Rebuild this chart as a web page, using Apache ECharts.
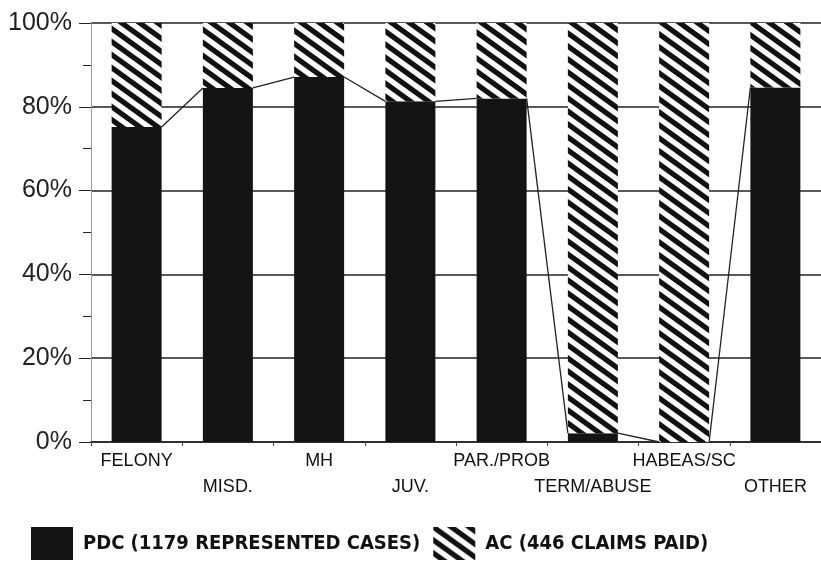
<!DOCTYPE html>
<html>
<head>
<meta charset="utf-8">
<script src="https://cdn.jsdelivr.net/npm/echarts@6/dist/echarts.min.js"></script>
<style>
  html, body { margin: 0; padding: 0; background: #fff; }
  #chart { width: 821px; height: 561px; }
</style>
</head>
<body>
<div id="chart"></div>
<script>
// Chart data (share of cases in %)
var categories = ["FELONY", "MISD.", "MH", "JUV.", "PAR./PROB", "TERM/ABUSE", "HABEAS/SC", "OTHER"];
var pdcShare = [75.2, 84.5, 87.1, 81.3, 82.0, 2.1, 0, 84.6];     // PDC (black)
var acShare  = [24.8, 15.5, 12.9, 18.7, 18.0, 97.9, 100, 15.4];  // AC (hatched)
var yTicks   = [0, 20, 40, 60, 80, 100];

var barWidth = 50;

// Diagonal hatch tile for the AC bars (lines run past the tile so the joins are clean)
function makeHatch() {
	var w = 18, h = 13;
	var c = document.createElement("canvas");
	c.width = w;
	c.height = h;
	var ctx = c.getContext("2d");
	ctx.fillStyle = "#fff";
	ctx.fillRect(0, 0, w, h);
	ctx.strokeStyle = "#111";
	ctx.lineWidth = 5.2;
	[-w, 0, w].forEach(function (dx) {
		ctx.beginPath();
		ctx.moveTo(dx - w, -h);
		ctx.lineTo(dx + 2 * w, 2 * h);
		ctx.stroke();
	});
	return c;
}

var hatch = { image: makeHatch(), repeat: "repeat" };

// Series lines: top of one black bar (right corner) to the next (left corner)
var linkData = [];
for (var i = 0; i < pdcShare.length - 1; i++) {
	linkData.push([i, pdcShare[i], pdcShare[i + 1]]);
}

var chart = echarts.init(document.getElementById("chart"), null, { renderer: "canvas" });

chart.setOption({
	animation: false,
	backgroundColor: "#fff",
	grid: { left: 91, right: 0, top: 23, bottom: 119, containLabel: false },
	legend: {
		left: 31,
		top: 527,
		padding: 0,
		icon: "rect",
		itemWidth: 42,
		itemHeight: 33,
		itemGap: 13,
		data: ["PDC (1179 REPRESENTED CASES)", "AC (446 CLAIMS PAID)"],
		textStyle: {
			fontFamily: "'Liberation Sans Narrow', 'DejaVu Sans Condensed', sans-serif",
			fontWeight: "bold",
			fontSize: 20,
			color: "#111",
			padding: [0, 0, 0, 5]
		}
	},
	xAxis: {
		type: "category",
		data: categories,
		axisLine: { show: true, lineStyle: { color: "#222", width: 1.5 } },
		axisTick: { show: true, length: 4, lineStyle: { color: "#444" } },
		axisLabel: {
			interval: 0,
			margin: 6,
			fontFamily: "'Liberation Sans', Arial, sans-serif",
			fontSize: 18,
			lineHeight: 26,
			color: "#111",
			formatter: function (v, idx) {
				return idx % 2 ? "\n" + v : v;
			}
		},
		splitLine: { show: false }
	},
	yAxis: {
		type: "value",
		min: yTicks[0],
		max: yTicks[yTicks.length - 1],
		interval: 20,
		axisLine: { show: true, lineStyle: { color: "#999", width: 1 } },
		axisTick: { show: true, length: 12, lineStyle: { color: "#222" } },
		minorTick: { show: true, splitNumber: 2, length: 8, lineStyle: { color: "#222" } },
		axisLabel: {
			margin: 19,
			fontFamily: "'Liberation Sans', Arial, sans-serif",
			fontSize: 25,
			color: "#222",
			formatter: "{value}%"
		},
		splitLine: { show: true, lineStyle: { color: "#222", width: 1.5 } }
	},
	series: [
		{
			name: "PDC (1179 REPRESENTED CASES)",
			type: "bar",
			stack: "share",
			barWidth: barWidth,
			data: pdcShare,
			itemStyle: { color: "#141414" },
			z: 2
		},
		{
			name: "AC (446 CLAIMS PAID)",
			type: "bar",
			stack: "share",
			barWidth: barWidth,
			data: acShare,
			itemStyle: { color: hatch },
			z: 2
		},
		{
			name: "links",
			type: "custom",
			data: linkData,
			z: 3,
			silent: true,
			renderItem: function (params, api) {
				var idx = api.value(0);
				var p1 = api.coord([idx, api.value(1)]);
				var p2 = api.coord([idx + 1, api.value(2)]);
				var half = barWidth / 2;
				return {
					type: "line",
					shape: { x1: p1[0] + half, y1: p1[1], x2: p2[0] - half, y2: p2[1] },
					style: { stroke: "#222", lineWidth: 1.3 }
				};
			}
		}
	]
});
</script>
</body>
</html>
